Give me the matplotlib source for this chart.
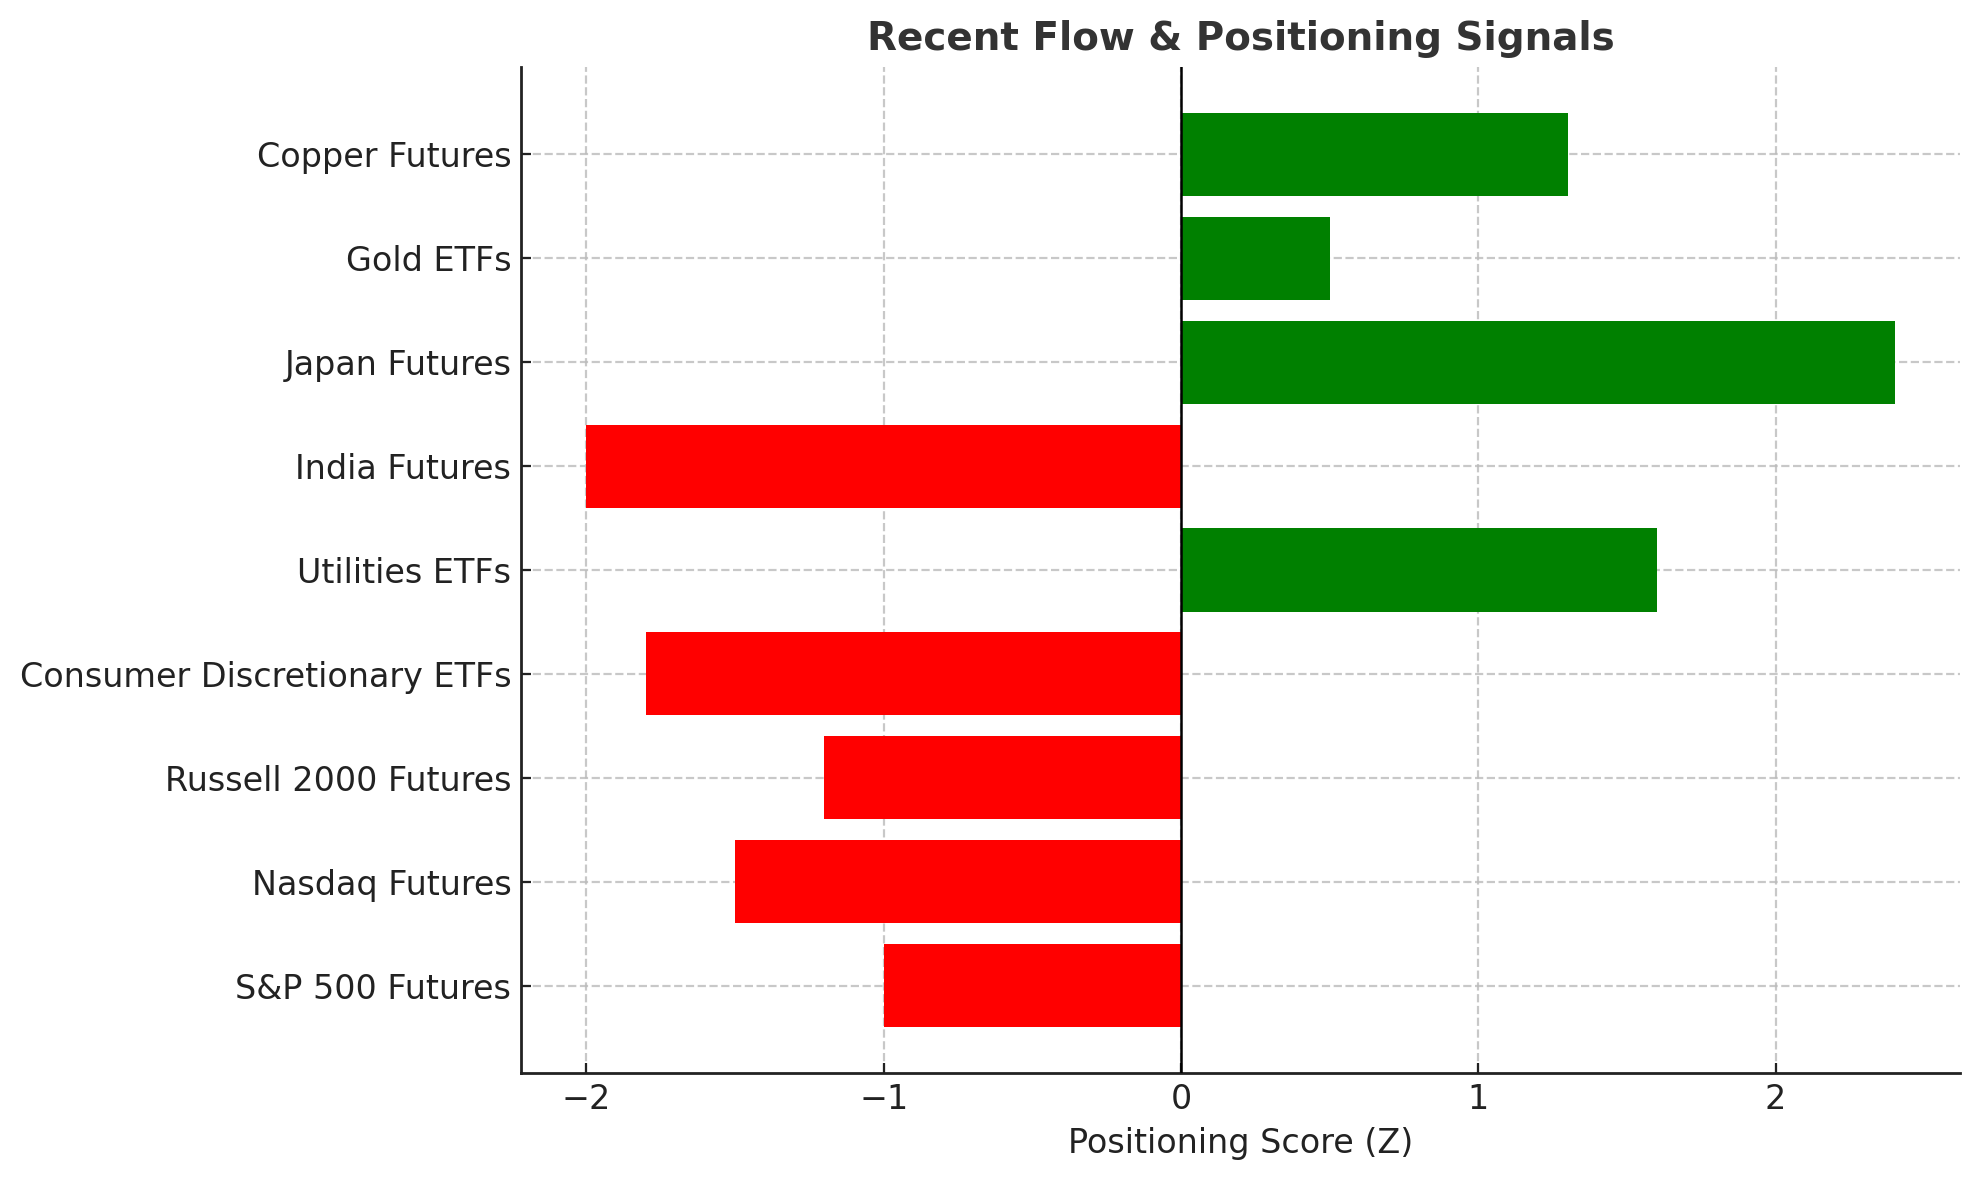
import matplotlib
matplotlib.use("Agg")
from matplotlib import pyplot as plt

# data, bottom to top as drawn
assets = [
    "S&P 500 Futures",
    "Nasdaq Futures",
    "Russell 2000 Futures",
    "Consumer Discretionary ETFs",
    "Utilities ETFs",
    "India Futures",
    "Japan Futures",
    "Gold ETFs",
    "Copper Futures",
]
scores = [-1.0, -1.5, -1.2, -1.8, 1.6, -2.0, 2.4, 0.5, 1.3]

colors = ["green" if s > 0 else "red" for s in scores]

fig = plt.figure(figsize=(1979 / 200, 1180 / 200), dpi=200)
ax = fig.add_axes([521 / 1979, 1 - 1073 / 1180, (1960 - 521) / 1979, (1073 - 67) / 1180])

ax.barh(assets, scores, color=colors, height=0.8, zorder=2)
ax.axvline(0, color="black", linewidth=0.9, zorder=3)

ax.grid(True, linestyle="--", color="#bbbbbb", linewidth=0.8, alpha=0.8, zorder=0)
ax.set_axisbelow(True)

ax.spines["top"].set_visible(False)
ax.spines["right"].set_visible(False)
for side in ["left", "bottom"]:
    ax.spines[side].set_color("#222222")
    ax.spines[side].set_linewidth(1.0)

ax.tick_params(axis="both", direction="in", labelsize=12, colors="#222222", length=3.5, width=0.8)
ax.set_xlabel("Positioning Score (Z)", fontsize=12, color="#222222")
ax.set_title("Recent Flow & Positioning Signals", fontsize=14, fontweight="bold", color="#333333")

plt.savefig("out.png", dpi=200)
